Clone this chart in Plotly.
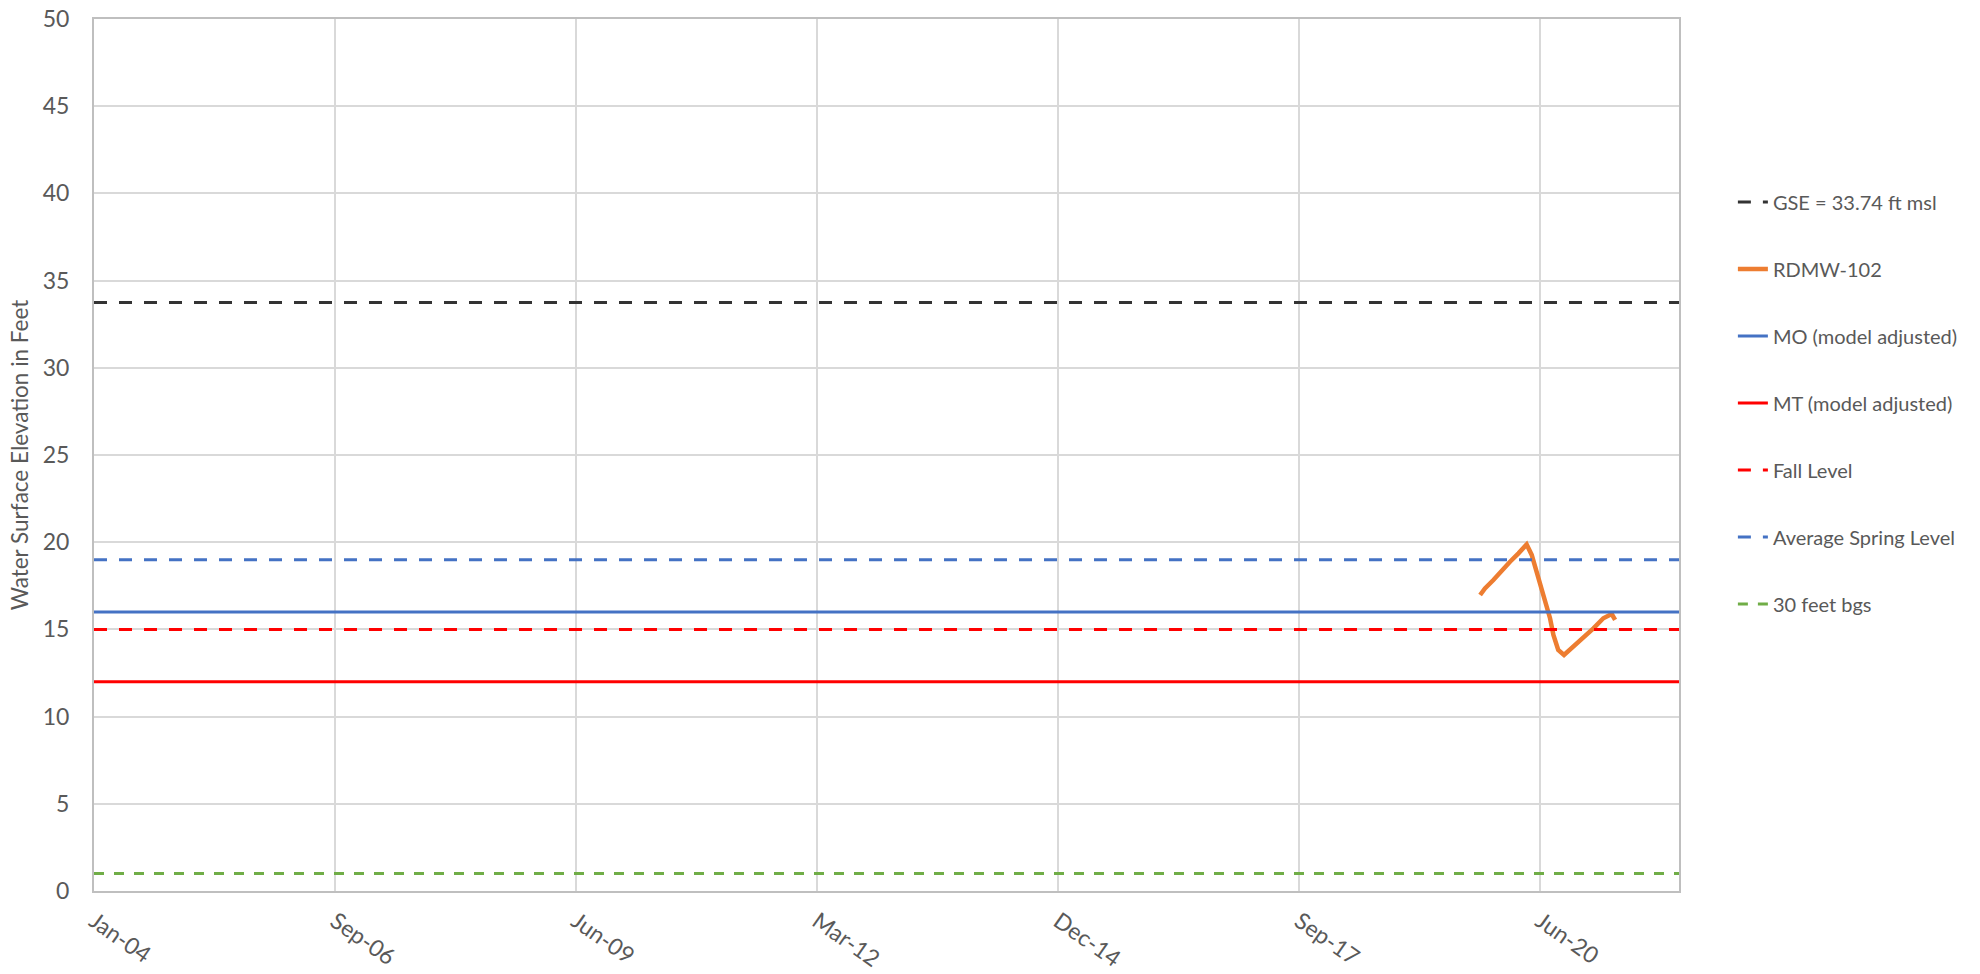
import plotly.graph_objects as go

# ---- data ----
range_dates = ["2004-01-01", "2022-01-01"]
tick_dates = ["2004-01-01", "2006-09-27", "2009-06-23", "2012-03-19",
              "2014-12-14", "2017-09-09", "2020-06-05"]
tick_labels = ["Jan-04", "Sep-06", "Jun-09", "Mar-12", "Dec-14", "Sep-17", "Jun-20"]

gse_level = 33.74
mo_level = 16.0
mt_level = 12.0
fall_level = 15.0
spring_level = 19.0
bgs30_level = 1.0

rdmw_dates = ["2019-09-29", "2019-10-19", "2019-11-23", "2019-12-28", "2020-01-31",
              "2020-03-06", "2020-04-09", "2020-04-30", "2020-05-21", "2020-06-11",
              "2020-07-01", "2020-07-15", "2020-07-29", "2020-08-18", "2020-09-11",
              "2020-10-20", "2020-11-30", "2021-01-11", "2021-02-21", "2021-03-28",
              "2021-04-11"]
rdmw_values = [16.97, 17.35, 17.83, 18.41, 18.88,
               19.36, 19.87, 19.27, 18.31, 17.16,
               16.30, 15.64, 14.68, 13.82, 13.53,
               14.01, 14.58, 15.06, 15.64, 15.88,
               15.54]

series_names = ["GSE = 33.74 ft msl", "RDMW-102", "MO (model adjusted)",
                "MT (model adjusted)", "Fall Level", "Average Spring Level", "30 feet bgs"]

# ---- figure ----
FONT = "Lato, Calibri, sans-serif"
TXT = "#595959"

fig = go.Figure()

def hline(name, level, color, dash, width=3):
    fig.add_trace(go.Scatter(
        x=range_dates, y=[level, level], mode="lines", name=name,
        legendgroup=name,
        line=dict(color=color, width=width, dash=dash)))

hline(series_names[0], gse_level, "#333333", "13px,12px")
fig.add_trace(go.Scatter(x=rdmw_dates, y=rdmw_values, mode="lines",
                         name=series_names[1], legendgroup=series_names[1],
                         line=dict(color="#ED7D31", width=4.5)))
hline(series_names[2], mo_level, "#4472C4", "solid")
hline(series_names[3], mt_level, "#FF0000", "solid")
hline(series_names[4], fall_level, "#FF0000", "13px,12px")
hline(series_names[5], spring_level, "#4472C4", "13px,12px")
hline(series_names[6], bgs30_level, "#70AD47", "10px,10px")

fig.update_layout(
    width=1980, height=974,
    margin=dict(l=94, r=301, t=19, b=83, autoexpand=False),
    paper_bgcolor="white", plot_bgcolor="white",
    font=dict(family=FONT, color=TXT, size=20),
    showlegend=True,
    legend=dict(x=1.034, xanchor="left", y=0.8124, yanchor="top",
                font=dict(size=20, color=TXT, family=FONT),
                tracegroupgap=38, itemwidth=30,
                bgcolor="rgba(0,0,0,0)"),
    xaxis=dict(type="date", range=range_dates, automargin=False,
               tickmode="array", tickvals=tick_dates, ticktext=tick_labels,
               tickangle=35, tickfont=dict(size=23, color=TXT, family=FONT),
               showgrid=True, gridcolor="#D9D9D9", gridwidth=1.5,
               showline=True, linecolor="#BFBFBF", linewidth=2, mirror=True,
               ticks="", zeroline=False, ticklabelstandoff=6),
    yaxis=dict(range=[0, 50], tickmode="linear", tick0=0, dtick=5,
               automargin=False,
               tickfont=dict(size=23, color=TXT, family=FONT),
               showgrid=True, gridcolor="#D9D9D9", gridwidth=1.5,
               showline=True, linecolor="#BFBFBF", linewidth=2, mirror=True,
               ticks="", zeroline=False, ticklabelstandoff=18,
               title=dict(text="Water Surface Elevation in Feet",
                          font=dict(size=22.5, color=TXT, family=FONT),
                          standoff=8)),
)

fig.write_html("out.html", config={"displayModeBar": False},
               post_script="document.body.style.margin='0';")
